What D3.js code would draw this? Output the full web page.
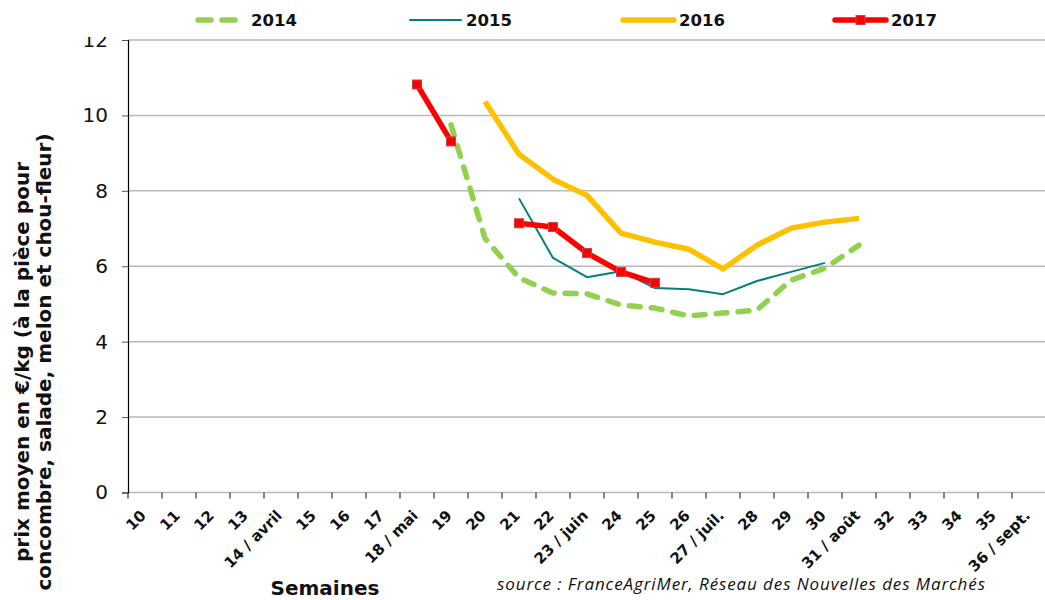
<!DOCTYPE html>
<html>
<head>
<meta charset="utf-8">
<script src="https://cdn.jsdelivr.net/npm/d3@7"></script>
<style>
  body { margin: 0; background: #fff; }
  svg { display: block; }
</style>
</head>
<body>
<div id="chart"></div>
<script>
// Data
const weeks = d3.range(10, 37);
const weekLabels = ["10", "11", "12", "13", "14 / avril", "15", "16", "17", "18 / mai", "19",
    "20", "21", "22", "23 / juin", "24", "25", "26", "27 / juil.", "28", "29", "30",
    "31 / août", "32", "33", "34", "35", "36 / sept."];
const yTicks = [0, 2, 4, 6, 8, 10, 12];

// week -> price (null = no value)
const weeks2014 = [19, 20, 21, 22, 23, 24, 25, 26, 27, 28, 29, 30, 31];
const values2014 = [9.75, 6.74, 5.69, 5.29, 5.27, 4.97, 4.89, 4.68, 4.76, 4.84, 5.63, 5.95, 6.56];
const weeks2015 = [21, 22, 23, 24, 25, 26, 27, 28, 29, 30];
const values2015 = [7.8, 6.22, 5.71, 5.87, 5.42, 5.39, 5.26, 5.61, 5.85, 6.09];
const weeks2016 = [20, 21, 22, 23, 24, 25, 26, 27, 28, 29, 30, 31];
const values2016 = [10.37, 8.97, 8.31, 7.88, 6.88, 6.64, 6.45, 5.93, 6.56, 7.01, 7.17, 7.27];
const weeks2017 = [18, 19, 20, 21, 22, 23, 24, 25];
const values2017 = [10.82, 9.31, null, 7.14, 7.04, 6.35, 5.85, 5.56];

// Configuration
const WIDTH = 1045;
const HEIGHT = 600;
const margin = { left: 128, top: 40 };
const plotRight = 1046;
const FONT = "DejaVu Sans, Verdana, sans-serif";

const svg = d3.select("#chart")
    .append("svg")
    .attr("width", WIDTH)
    .attr("height", HEIGHT);

const x = d3.scaleBand()
    .domain(weeks)
    .range([margin.left, plotRight])
    .padding(0);

const y = d3.scaleLinear()
    .domain([0, 12])
    .range([492.5, margin.top]);

const xc = w => x(w) + x.bandwidth() / 2;

// Gridlines
svg.append("g")
    .selectAll("line")
    .data(yTicks)
    .join("line")
    .attr("x1", margin.left)
    .attr("x2", WIDTH)
    .attr("y1", d => y(d))
    .attr("y2", d => y(d))
    .attr("stroke", "#b9b9b9")
    .attr("stroke-width", 1.5);

// Y axis
const yAxis = svg.append("g")
    .attr("transform", `translate(${margin.left},0)`)
    .call(d3.axisLeft(y).tickValues(yTicks).tickSize(6).tickPadding(14));
yAxis.select(".domain").attr("stroke", "#000").attr("stroke-width", 1.2);
yAxis.selectAll(".tick line").attr("stroke", "#555");
yAxis.selectAll("text")
    .attr("font-family", FONT)
    .attr("font-size", 20)
    .attr("fill", "#111");

// X axis: ticks between categories
const xAxis = svg.append("g").attr("transform", `translate(0,${y(0)})`);
xAxis.selectAll("line")
    .data(d3.range(weeks.length + 1))
    .join("line")
    .attr("x1", i => margin.left + i * x.bandwidth())
    .attr("x2", i => margin.left + i * x.bandwidth())
    .attr("y1", 0)
    .attr("y2", 6)
    .attr("stroke", "#333")
    .attr("stroke-width", 1.2);

xAxis.selectAll("text")
    .data(weeks)
    .join("text")
    .attr("transform", d => `translate(${xc(d) + 2},${24}) rotate(-45)`)
    .attr("text-anchor", "end")
    .attr("font-family", FONT)
    .attr("font-weight", "bold")
    .attr("font-size", 15)
    .attr("fill", "#111")
    .text((d, i) => weekLabels[i]);

// Lines
const line = d3.line()
    .defined(d => d.v !== null)
    .x(d => xc(d.w))
    .y(d => y(d.v));

const series = [
    { name: "2014", weeks: weeks2014, values: values2014, color: "#92d050", width: 5.5, dash: "11 11" },
    { name: "2015", weeks: weeks2015, values: values2015, color: "#008080", width: 2, dash: null },
    { name: "2016", weeks: weeks2016, values: values2016, color: "#ffc000", width: 5.5, dash: null },
    { name: "2017", weeks: weeks2017, values: values2017, color: "#ff0000", width: 5.5, dash: null, marker: true }
];

series.forEach(s => {
    const pts = s.weeks.map((w, i) => ({ w: w, v: s.values[i] }));
    svg.append("path")
        .datum(pts)
        .attr("d", line)
        .attr("fill", "none")
        .attr("stroke", s.color)
        .attr("stroke-width", s.width)
        .attr("stroke-linejoin", "round")
        .attr("stroke-linecap", s.dash ? "round" : "butt")
        .attr("stroke-dasharray", s.dash);
    if (s.marker) {
        svg.append("g")
            .selectAll("rect")
            .data(pts.filter(d => d.v !== null))
            .join("rect")
            .attr("x", d => xc(d.w) - 4.5)
            .attr("y", d => y(d.v) - 4.5)
            .attr("width", 9)
            .attr("height", 9)
            .attr("fill", "#ff0000")
            .attr("stroke", "#d0404a")
            .attr("stroke-width", 1);
    }
});

// Legend (white box covers the top of "12", like the original)
svg.append("rect")
    .attr("x", 60)
    .attr("y", 0)
    .attr("width", WIDTH - 60)
    .attr("height", 37)
    .attr("fill", "#fff");

const legendX = [195, 410, 623, 835];
const legend = svg.append("g");
series.forEach((s, i) => {
    const g = legend.append("g").attr("transform", `translate(${legendX[i]},20)`);
    g.append("line")
        .attr("x1", s.dash ? 3 : 0)
        .attr("x2", s.dash ? 40 : 51)
        .attr("stroke", s.color)
        .attr("stroke-width", s.width)
        .attr("stroke-linecap", "round")
        .attr("stroke-dasharray", s.dash ? "13 11" : null);
    if (s.marker) {
        g.append("rect")
            .attr("x", 21)
            .attr("y", -4.5)
            .attr("width", 9)
            .attr("height", 9)
            .attr("fill", "#ff0000")
            .attr("stroke", "#d0404a");
    }
    g.append("text")
        .attr("x", 56)
        .attr("dy", "0.36em")
        .attr("font-family", FONT)
        .attr("font-weight", "bold")
        .attr("font-size", 16.5)
        .attr("fill", "#111")
        .text(s.name);
});

// Y axis title (two lines)
const yTitle = svg.append("text")
    .attr("transform", "translate(33,362) rotate(-90)")
    .attr("text-anchor", "middle")
    .attr("font-family", FONT)
    .attr("font-weight", "bold")
    .attr("font-size", 20)
    .attr("fill", "#111");
yTitle.append("tspan").attr("x", 0).attr("dy", "-0.2em").text("prix moyen en €/kg (à la pièce pour");
yTitle.append("tspan").attr("x", 0).attr("dy", "1.1em").text("concombre, salade, melon et chou-fleur)");

// X axis title
svg.append("text")
    .attr("x", 325)
    .attr("y", 595)
    .attr("text-anchor", "middle")
    .attr("font-family", FONT)
    .attr("font-weight", "bold")
    .attr("font-size", 20)
    .attr("fill", "#111")
    .text("Semaines");

// Source
svg.append("text")
    .attr("x", 497)
    .attr("y", 590)
    .attr("font-family", "Open Sans, Liberation Sans, sans-serif")
    .attr("font-style", "italic")
    .attr("font-size", 17)
    .attr("textLength", 488)
    .attr("fill", "#111")
    .text("source : FranceAgriMer, Réseau des Nouvelles des Marchés");
</script>
</body>
</html>
